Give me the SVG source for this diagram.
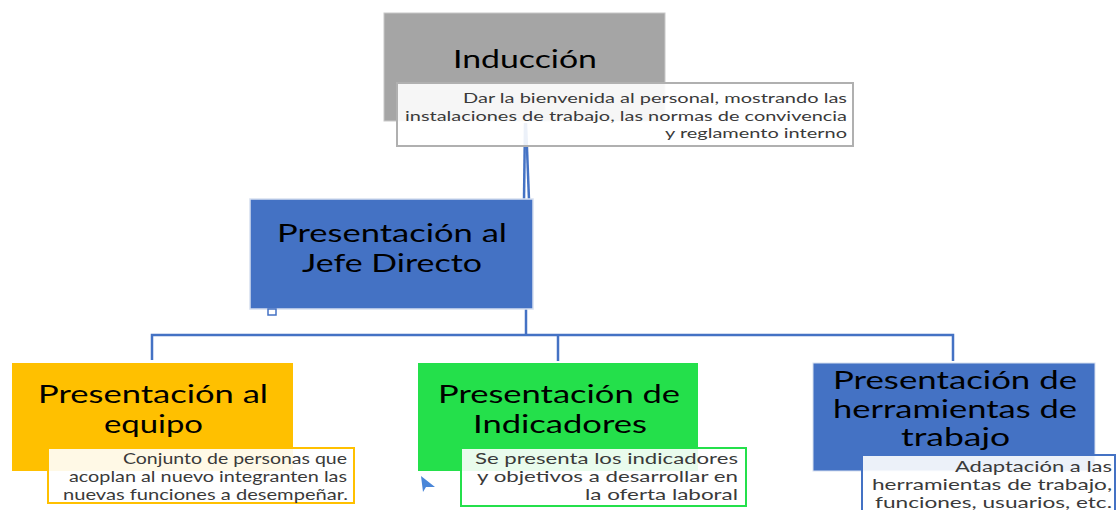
<svg xmlns="http://www.w3.org/2000/svg" width="1116" height="510" viewBox="0 0 1116 510">
<style>
.title{font-family:Lato,"Open Sans","Liberation Sans",sans-serif;font-size:25px;fill:#000}
.desc{font-family:Lato,"Open Sans","Liberation Sans",sans-serif;font-size:15px;fill:#3a3a3a}
.conn{stroke:#4472C4;stroke-width:2.5;fill:none}
.db{fill:#ffffff;fill-opacity:0.9;stroke-width:2}
</style>
<rect width="1116" height="510" fill="#ffffff"/>
<g id="connectors">
<line class="conn" x1="525" y1="123" x2="524" y2="200"/>
<line class="conn" x1="526" y1="123" x2="529" y2="200"/>
<line class="conn" x1="526" y1="309" x2="526" y2="335"/>
<polyline class="conn" points="152,360 152,335 953,335 953,361"/>
<line class="conn" x1="558" y1="335" x2="558" y2="361"/>
</g>
<g id="induccion">
<rect x="384" y="13" width="281" height="108" fill="#A5A5A5" stroke="#c8c8c8" stroke-width="1"/>
<text class="title" x="453" y="68" textLength="144" lengthAdjust="spacingAndGlyphs">Inducción</text>
<rect class="db" x="397" y="83" width="456" height="63" stroke="#b0b0b0"/>
<g class="desc" style="font-size:14px">
<text x="463" y="103" textLength="384" lengthAdjust="spacingAndGlyphs">Dar la bienvenida al personal, mostrando las</text>
<text x="405" y="121" textLength="442" lengthAdjust="spacingAndGlyphs">instalaciones de trabajo, las normas de convivencia</text>
<text x="665" y="138" textLength="182" lengthAdjust="spacingAndGlyphs">y reglamento interno</text>
</g>
</g>
<g id="jefe">
<rect x="250" y="199" width="283" height="110" fill="#4472C4" stroke="#d6dff0" stroke-width="1.5"/>
<text class="title" x="277" y="242" textLength="230" lengthAdjust="spacingAndGlyphs">Presentación al</text>
<text class="title" x="302" y="272" textLength="180" lengthAdjust="spacingAndGlyphs">Jefe Directo</text>
<rect x="268" y="309" width="8" height="6" fill="#ffffff" stroke="#4472C4" stroke-width="1.5"/>
</g>
<g id="equipo">
<rect x="12" y="363" width="281" height="108" fill="#FFC000"/>
<text class="title" x="38" y="403" textLength="230" lengthAdjust="spacingAndGlyphs">Presentación al</text>
<text class="title" x="104" y="433" textLength="99" lengthAdjust="spacingAndGlyphs">equipo</text>
<rect class="db" x="48" y="448" width="306" height="55" stroke="#FFC000"/>
<text class="desc" x="123" y="464" textLength="224" lengthAdjust="spacingAndGlyphs">Conjunto de personas que</text>
<text class="desc" x="69" y="482" textLength="278" lengthAdjust="spacingAndGlyphs">acoplan al nuevo integranten las</text>
<text class="desc" x="63" y="500" textLength="285" lengthAdjust="spacingAndGlyphs">nuevas funciones a desempeñar.</text>
</g>
<g id="indicadores">
<rect x="418" y="363" width="280" height="108" fill="#24E04B"/>
<text class="title" x="438" y="403" textLength="242" lengthAdjust="spacingAndGlyphs">Presentación de</text>
<text class="title" x="473" y="433" textLength="174" lengthAdjust="spacingAndGlyphs">Indicadores</text>
<rect class="db" x="461" y="448" width="285" height="58" stroke="#24E04B"/>
<text class="desc" x="475" y="464" textLength="263" lengthAdjust="spacingAndGlyphs">Se presenta los indicadores</text>
<text class="desc" x="477" y="482" textLength="261" lengthAdjust="spacingAndGlyphs">y objetivos a desarrollar en</text>
<text class="desc" x="585" y="500" textLength="153" lengthAdjust="spacingAndGlyphs">la oferta laboral</text>
<polygon points="421,476 435,487 426,487 423,492" fill="#4A86D8"/>
</g>
<g id="herramientas">
<rect x="813" y="363" width="282" height="108" fill="#4472C4" stroke="#d6dff0" stroke-width="1"/>
<text class="title" x="833" y="389" textLength="244" lengthAdjust="spacingAndGlyphs">Presentación de</text>
<text class="title" x="833" y="418" textLength="244" lengthAdjust="spacingAndGlyphs">herramientas de</text>
<text class="title" x="901" y="446" textLength="109" lengthAdjust="spacingAndGlyphs">trabajo</text>
<rect class="db" x="862" y="455" width="253" height="58" stroke="#4472C4"/>
<text class="desc" x="955" y="472" textLength="157" lengthAdjust="spacingAndGlyphs">Adaptación a las</text>
<text class="desc" x="872" y="490" textLength="240" lengthAdjust="spacingAndGlyphs">herramientas de trabajo,</text>
<text class="desc" x="875" y="508" textLength="237" lengthAdjust="spacingAndGlyphs">funciones, usuarios, etc.</text>
</g>
</svg>
